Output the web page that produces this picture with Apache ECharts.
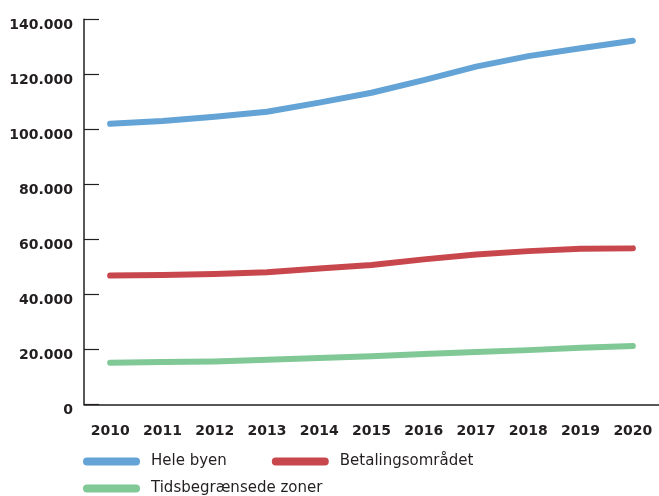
<!DOCTYPE html>
<html>
<head>
<meta charset="utf-8">
<script src="https://cdn.jsdelivr.net/npm/echarts@6/dist/echarts.min.js"></script>
<style>
html,body{margin:0;padding:0;background:#fff;}
#chart{width:659px;height:496px;}
</style>
</head>
<body>
<div id="chart"></div>
<script>
const years = ['2010','2011','2012','2013','2014','2015','2016','2017','2018','2019','2020'];
const heleByen = [102000,103000,104600,106400,109700,113300,117900,122800,126600,129500,132200];
const betaling = [46800,47000,47400,48000,49400,50650,52700,54500,55700,56600,56700];
const tidsbegr = [15100,15400,15600,16200,16800,17450,18300,19000,19700,20600,21200];
const seriesNames = ['Hele byen','Betalingsområdet','Tidsbegrænsede zoner'];
const colors = ['#63a3d5','#c8474c','#80c896'];

const dark = '#231f20';
const iconPath = 'path://M4,0L53,0A4,4,0,0,1,53,8L4,8A4,4,0,0,1,4,0Z';
const chart = echarts.init(document.getElementById('chart'));
const fmt = v => '{a|' + (v === 0 ? '0' : String(v).replace(/\B(?=(\d{3})+(?!\d))/g, '.')) + '}';

const legendBase = {
  orient: 'horizontal',
  left: 83,
  padding: 0,
  itemWidth: 57,
  itemHeight: 8,
  itemGap: 45,
  icon: iconPath,
  textStyle: {fontFamily: 'DejaVu Sans', fontSize: 15, color: dark, padding: [0,0,0,6]}
};

chart.setOption({
  animation: false,
  color: colors,
  grid: {left: 84, top: 19.3, width: 578.6, height: 385},
  legend: [
    Object.assign({}, legendBase, {top: 454, data: [seriesNames[0], seriesNames[1]]}),
    Object.assign({}, legendBase, {top: 481, data: [seriesNames[2]]})
  ],
  xAxis: {
    type: 'category',
    data: years,
    boundaryGap: true,
    axisLine: {lineStyle: {color: dark, width: 1.5}},
    axisTick: {inside: true, length: 9, lineStyle: {color: dark, width: 1.2}},
    axisLabel: {margin: 20, fontFamily: 'DejaVu Sans', fontWeight: 'bold', fontSize: 14, color: dark}
  },
  yAxis: {
    type: 'value',
    min: 0, max: 140000, interval: 20000,
    splitLine: {show: false},
    axisLine: {show: true, lineStyle: {color: dark, width: 1.5}},
    axisTick: {show: true, inside: true, length: 15, lineStyle: {color: dark, width: 1.2}},
    axisLabel: {
      margin: 11, color: dark, formatter: fmt,
      rich: {a: {fontFamily: 'DejaVu Sans', fontWeight: 'bold', fontSize: 14, color: dark, padding: [13,0,0,0]}}
    }
  },
  series: [heleByen, betaling, tidsbegr].map((d, i) => ({
    name: seriesNames[i],
    type: 'line',
    data: d,
    symbol: 'none',
    smooth: false,
    lineStyle: {width: 6, cap: 'round', join: 'round', color: colors[i]},
    itemStyle: {color: colors[i]}
  }))
});
</script>
</body>
</html>
